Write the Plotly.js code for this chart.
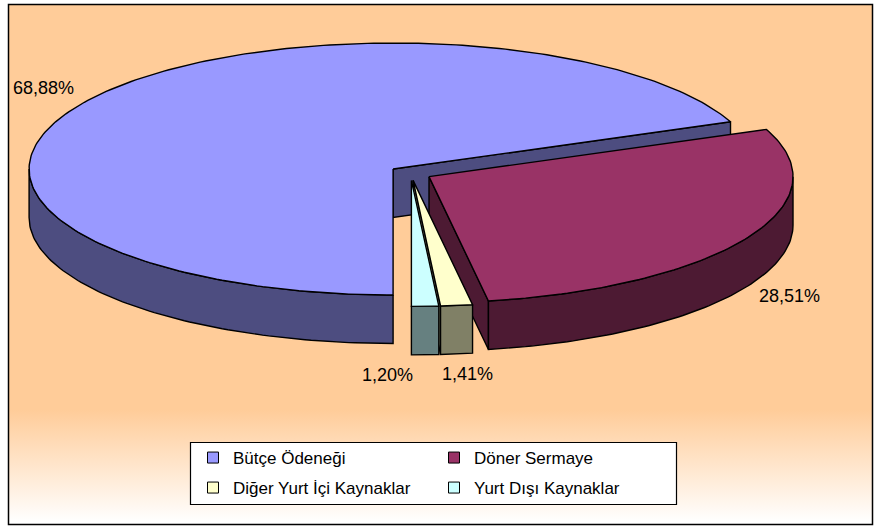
<!DOCTYPE html>
<html><head><meta charset="utf-8">
<script src="https://cdn.plot.ly/plotly-3.0.1.min.js"></script>
<style>
html,body{margin:0;padding:0;background:#fff;}
#chart{width:874px;height:526px;
 background-color:#fff;
 background-image:linear-gradient(to bottom,#FFCC99 0px,#FFCC99 406px,#FFFFFF 518px);
 background-repeat:no-repeat;background-position:8px 4px;background-size:864px 521px;}
</style></head><body><div id="chart"></div>
<script>
// ---- data ----
const categories = ['Bütçe Ödeneği', 'Döner Sermaye', 'Diğer Yurt İçi Kaynaklar', 'Yurt Dışı Kaynaklar'];
const shares = [68.88, 28.51, 1.41, 1.20];
const shareLabels = ['68,88%', '28,51%', '1,41%', '1,20%'];
const topColors = ['#9999FF', '#993366', '#FFFFCC', '#CCFFFF'];
const sideColors = ['#4D4D80', '#4D1A33', '#808066', '#668080'];
const legendRow = ['legend', 'legend', 'legend2', 'legend2'];
const labelShift = [0, -7, 4, -40];

// ---- 3D pie geometry (plot units = pixels) ----
const CX = 410.6, CY = 173.1, RX = 364, RY = 126, DEPTH = 48.5;
const PULL = 0.058, START = 180, LABEL_R = 1.215;
const rad = d => d * Math.PI / 180;
const total = shares.reduce((a, b) => a + b, 0);

function pt(t, r, ox, oy, dz) {
  return [CX + ox + r * RX * Math.sin(rad(t)), CY + oy - r * RY * Math.cos(rad(t)) + dz];
}
function poly(points, fill, name) {
  const xs = points.map(p => p[0]), ys = points.map(p => p[1]);
  xs.push(xs[0]); ys.push(ys[0]);
  return {type: 'scatter', mode: 'lines', x: xs, y: ys, fill: 'toself', fillcolor: fill,
    line: {color: '#000', width: 1.4}, showlegend: false, hoverinfo: 'skip', name: name};
}

let acc = 0;
const slices = shares.map((s, i) => {
  const a0 = START + acc / total * 360;
  acc += s;
  const a1 = START + acc / total * 360;
  return {i, a0, a1, mid: (a0 + a1) / 2};
});
const order = slices.slice().sort((p, q) => (-Math.cos(rad(p.mid))) - (-Math.cos(rad(q.mid))));

const traces = [];
order.forEach(sl => {
  const i = sl.i;
  const ox = PULL * RX * Math.sin(rad(sl.mid));
  const oy = -PULL * RY * Math.cos(rad(sl.mid));
  const apexT = [CX + ox, CY + oy], apexB = [CX + ox, CY + oy + DEPTH];
  // radial faces
  if (Math.sin(rad(sl.a1)) > 1e-6) {
    traces.push(poly([apexT, pt(sl.a1, 1, ox, oy, 0), pt(sl.a1, 1, ox, oy, DEPTH), apexB], sideColors[i], categories[i]));
  }
  if (-Math.sin(rad(sl.a0)) > 1e-6) {
    traces.push(poly([apexT, pt(sl.a0, 1, ox, oy, 0), pt(sl.a0, 1, ox, oy, DEPTH), apexB], sideColors[i], categories[i]));
  }
  // outer wall (front half only)
  for (let k = -1; k <= 2; k++) {
    const lo = Math.max(sl.a0, 90 + 360 * k), hi = Math.min(sl.a1, 270 + 360 * k);
    if (hi > lo) {
      const n = Math.max(2, Math.ceil(hi - lo));
      const topArc = [], botArc = [];
      for (let j = 0; j <= n; j++) {
        const t = lo + (hi - lo) * j / n;
        topArc.push(pt(t, 1, ox, oy, 0));
        botArc.push(pt(t, 1, ox, oy, DEPTH));
      }
      traces.push(poly(topArc.concat(botArc.reverse()), sideColors[i], categories[i]));
    }
  }
  // top face
  const n = Math.max(2, Math.ceil(sl.a1 - sl.a0));
  const face = [apexT];
  for (let j = 0; j <= n; j++) face.push(pt(sl.a0 + (sl.a1 - sl.a0) * j / n, 1, ox, oy, 0));
  traces.push(poly(face, topColors[i], categories[i]));
});

// legend entries
categories.forEach((c, i) => {
  traces.push({type: 'scatter', mode: 'markers', x: [null], y: [null], name: c, legend: legendRow[i],
    marker: {symbol: 'square', size: 11, color: topColors[i], line: {color: '#000', width: 1}},
    hoverinfo: 'skip', showlegend: true});
});

// labels
const annotations = slices.map(sl => {
  const v = -Math.cos(rad(sl.mid));
  const p = pt(sl.mid, LABEL_R, 0, 0, v > 0 ? DEPTH : 0);
  return {x: p[0], y: p[1], text: shareLabels[sl.i], showarrow: false, xanchor: 'center', yanchor: 'middle',
    xshift: labelShift[sl.i], font: {family: 'Liberation Sans, Arial, sans-serif', size: 18, color: '#000'}};
});

const legendCommon = {orientation: 'h', xanchor: 'left', yanchor: 'middle', x: 193 / 874,
  bgcolor: 'rgba(0,0,0,0)', borderwidth: 0, entrywidth: 196, entrywidthmode: 'pixels',
  font: {family: 'Liberation Sans, Arial, sans-serif', size: 17, color: '#000'}};

const layout = {
  width: 874, height: 526, autosize: false,
  margin: {l: 0, r: 0, t: 0, b: 0, pad: 0},
  paper_bgcolor: 'rgba(0,0,0,0)', plot_bgcolor: 'rgba(0,0,0,0)',
  xaxis: {range: [0, 874], visible: false, fixedrange: true},
  yaxis: {range: [526, 0], visible: false, fixedrange: true},
  showlegend: true,
  legend: Object.assign({}, legendCommon, {y: 1 - 458 / 526}),
  legend2: Object.assign({}, legendCommon, {y: 1 - 488 / 526}),
  annotations: annotations,
  shapes: [
    {type: 'rect', xref: 'x', yref: 'y', x0: 8.5, x1: 872.5, y0: 4.5, y1: 524.5, line: {color: '#000', width: 1.5}, layer: 'below'},
    {type: 'rect', xref: 'x', yref: 'y', x0: 190.5, x1: 676.5, y0: 442.5, y1: 504.5, fillcolor: '#FFFFFF', line: {color: '#000', width: 1.2}, layer: 'below'}
  ]
};
Plotly.newPlot('chart', traces, layout, {staticPlot: true, displayModeBar: false});
</script></body></html>
